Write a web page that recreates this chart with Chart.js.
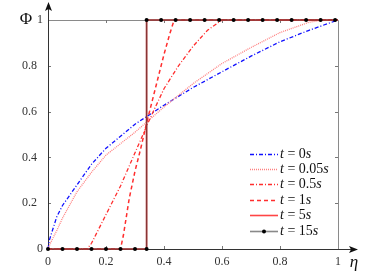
<!DOCTYPE html>
<html lang="en">

<head>
    <meta charset="UTF-8">
    <title>Phi x eta</title>
    <script src="https://cdn.jsdelivr.net/npm/chart.js"></script>
    <style>
        html, body { margin: 0; padding: 0; background: #fff; }
        #grafico { display: block; }
    </style>
</head>

<body>
    <canvas id="grafico" width="374" height="280"></canvas>

<script>
    // valores
    var tempos = ['0', '0.05', '0.5', '1', '5', '15'];

    var eta0 = [0, 0.005, 0.01, 0.03, 0.05, 0.1, 0.15, 0.2, 0.3, 0.4, 0.5, 0.6, 0.7, 0.8, 0.9, 1];
    var phi0 = [0, 0.04, 0.06, 0.14, 0.19, 0.28, 0.37, 0.44, 0.545, 0.628, 0.705, 0.774, 0.842, 0.905, 0.955, 1];

    var eta005 = [0, 0.01, 0.03, 0.05, 0.1, 0.15, 0.2, 0.3, 0.4, 0.5, 0.6, 0.7, 0.8, 0.9, 0.95, 1];
    var phi005 = [0, 0.03, 0.08, 0.135, 0.25, 0.335, 0.41, 0.51, 0.62, 0.722, 0.81, 0.88, 0.945, 0.99, 1, 1];

    var eta05 = [0, 0.135, 0.15, 0.2, 0.25, 0.3, 0.35, 0.4, 0.45, 0.5, 0.55, 0.6, 1];
    var phi05 = [0, 0, 0.025, 0.15, 0.275, 0.42, 0.565, 0.7, 0.8, 0.885, 0.955, 1, 1];

    var eta1 = [0, 0.25, 0.26, 0.28, 0.3, 0.32, 0.34, 0.36, 0.38, 0.4, 0.42, 0.435, 1];
    var phi1 = [0, 0, 0.06, 0.22, 0.34, 0.44, 0.55, 0.65, 0.75, 0.85, 0.94, 1, 1];

    var eta5 = [0, 0.34, 0.34, 1];
    var phi5 = [0, 0, 1, 1];

    var eta15 = [0, 0.05, 0.1, 0.15, 0.2, 0.25, 0.3, 0.34, 0.34, 0.39, 0.44, 0.49, 0.54, 0.59, 0.64, 0.69, 0.74, 0.79, 0.84, 0.89, 0.94, 0.99, 1];
    var phi15 = [0, 0, 0, 0, 0, 0, 0, 0, 1, 1, 1, 1, 1, 1, 1, 1, 1, 1, 1, 1, 1, 1, 1];

    var ticksX = [0, 0.2, 0.4, 0.6, 0.8, 1];
    var ticksY = [0, 0.2, 0.4, 0.6, 0.8, 1];

    var fonteSerif = '"Liberation Serif", "DejaVu Serif", serif';

    function pontos(xs, ys) {
        var lista = [];
        for (var i = 0; i < xs.length; i++) {
            lista.push({ x: xs[i], y: ys[i] });
        }
        return lista;
    }

    function rotulo(v) {
        if (v === 0 || v === 1) return String(v);
        return v.toFixed(1) + '\u2002';
    }

    // eixos com setas, caixa e ticks para dentro
    var pluginEixos = {
        id: 'eixos',
        beforeDatasetsDraw: function (chart) {
            var ctx = chart.ctx;
            var a = chart.chartArea;
            var sx = chart.scales.x;
            var sy = chart.scales.y;

            ctx.save();
            ctx.lineWidth = 1;

            // caixa (topo e direita)
            ctx.strokeStyle = '#8a8a8a';
            ctx.beginPath();
            ctx.moveTo(a.left, a.top + 0.5);
            ctx.lineTo(a.right + 0.5, a.top + 0.5);
            ctx.lineTo(a.right + 0.5, a.bottom);
            ctx.stroke();

            // ticks
            ctx.strokeStyle = '#777';
            ctx.beginPath();
            for (var i = 1; i < ticksX.length - 1; i++) {
                var px = Math.round(sx.getPixelForValue(ticksX[i])) + 0.5;
                ctx.moveTo(px, a.bottom); ctx.lineTo(px, a.bottom - 3);
                ctx.moveTo(px, a.top); ctx.lineTo(px, a.top + 3);
            }
            for (var j = 1; j < ticksY.length - 1; j++) {
                var py = Math.round(sy.getPixelForValue(ticksY[j])) + 0.5;
                ctx.moveTo(a.left, py); ctx.lineTo(a.left + 3, py);
                ctx.moveTo(a.right, py); ctx.lineTo(a.right - 3, py);
            }
            ctx.stroke();

            // eixos principais
            var x0 = Math.round(a.left) + 0.5;
            var y0 = Math.round(a.bottom) + 0.5;
            ctx.strokeStyle = '#333';
            ctx.beginPath();
            ctx.moveTo(x0, y0);
            ctx.lineTo(x0, 8);
            ctx.moveTo(x0, y0);
            ctx.lineTo(a.right + 14, y0);
            ctx.stroke();

            // setas
            ctx.fillStyle = '#111';
            ctx.beginPath();
            ctx.moveTo(x0, 2);
            ctx.lineTo(x0 + 3.5, 11);
            ctx.lineTo(x0, 9);
            ctx.lineTo(x0 - 3.5, 11);
            ctx.closePath();
            ctx.fill();

            var xs = a.right + 20;
            ctx.beginPath();
            ctx.moveTo(xs, y0);
            ctx.lineTo(xs - 9, y0 - 3.5);
            ctx.lineTo(xs - 7, y0);
            ctx.lineTo(xs - 9, y0 + 3.5);
            ctx.closePath();
            ctx.fill();

            ctx.restore();
        },
        afterDatasetsDraw: function (chart) {
            var ctx = chart.ctx;
            var a = chart.chartArea;

            ctx.save();
            // nomes dos eixos
            ctx.fillStyle = '#111';
            ctx.textBaseline = 'middle';
            ctx.textAlign = 'center';
            ctx.font = '17px ' + fonteSerif;
            ctx.fillText('\u03A6', 26, a.top);
            ctx.font = 'italic 17px ' + fonteSerif;
            ctx.fillText('\u03B7', a.right + 16, a.bottom + 14);

            // legenda
            var lx1 = a.right - 88;
            var lx2 = a.right - 60;
            var ly = a.top + 133.5;
            var passo = 15.4;
            ctx.textAlign = 'left';
            chart.data.datasets.forEach(function (ds, i) {
                var y = Math.round(ly + i * passo) + 0.5;
                ctx.save();
                ctx.strokeStyle = ds.borderColor;
                ctx.lineWidth = ds.borderWidth;
                ctx.setLineDash(ds.borderDash || []);
                ctx.beginPath();
                ctx.moveTo(lx1, y);
                ctx.lineTo(lx2, y);
                ctx.stroke();
                if (ds.marcador) {
                    ctx.fillStyle = '#000';
                    ctx.beginPath();
                    ctx.arc((lx1 + lx2) / 2, y, 2, 0, Math.PI * 2);
                    ctx.fill();
                }
                ctx.restore();

                var x = lx2 + 2;
                ctx.fillStyle = '#111';
                ctx.font = 'italic 14px ' + fonteSerif;
                ctx.fillText('t', x, y);
                x += ctx.measureText('t').width;
                ctx.font = '14px ' + fonteSerif;
                var meio = ' = ' + tempos[i];
                ctx.fillText(meio, x, y);
                x += ctx.measureText(meio).width;
                ctx.font = 'italic 14px ' + fonteSerif;
                ctx.fillText('s', x, y);
            });
            ctx.restore();
        }
    };

    function raios() {
        var r = [];
        for (var i = 0; i < eta15.length; i++) {
            r.push(i === eta15.length - 1 ? 0 : 2);
        }
        return r;
    }

    var dados = {
        datasets: [{
            label: 't = ' + tempos[0] + 's',
            data: pontos(eta0, phi0),
            borderColor: '#1010ff',
            borderWidth: 1.3,
            borderDash: [4, 2, 1, 2],
            order: 5
        }, {
            label: 't = ' + tempos[1] + 's',
            data: pontos(eta005, phi005),
            borderColor: '#ff8080',
            borderWidth: 1.3,
            borderDash: [1, 1],
            order: 4
        }, {
            label: 't = ' + tempos[2] + 's',
            data: pontos(eta05, phi05),
            borderColor: '#ff2e2e',
            borderWidth: 1.3,
            borderDash: [4, 2, 1, 2],
            order: 3
        }, {
            label: 't = ' + tempos[3] + 's',
            data: pontos(eta1, phi1),
            borderColor: '#ff2e2e',
            borderWidth: 1.5,
            borderDash: [4, 3],
            order: 2
        }, {
            label: 't = ' + tempos[4] + 's',
            data: pontos(eta5, phi5),
            borderColor: '#ff4545',
            borderWidth: 1.6,
            order: 1
        }, {
            label: 't = ' + tempos[5] + 's',
            data: pontos(eta15, phi15),
            borderColor: 'rgba(40, 40, 40, 0.55)',
            borderWidth: 1.6,
            pointRadius: raios(),
            pointBackgroundColor: '#000',
            pointBorderWidth: 0,
            marcador: true,
            order: 0
        }]
    };

    dados.datasets.forEach(function (ds) {
        ds.fill = false;
        ds.tension = 0;
        ds.clip = false;
        if (ds.pointRadius === undefined) ds.pointRadius = 0;
    });

    var config = {
        type: 'line',
        data: dados,
        options: {
            responsive: false,
            animation: false,
            layout: {
                padding: { top: 20, right: 36, left: 0, bottom: 0 }
            },
            plugins: {
                legend: { display: false },
                tooltip: { enabled: false }
            },
            scales: {
                x: {
                    type: 'linear',
                    min: 0,
                    max: 1,
                    grid: { display: false, drawTicks: false },
                    border: { display: false },
                    afterFit: function (scale) { scale.height = 31; },
                    afterBuildTicks: function (scale) {
                        scale.ticks = ticksX.map(function (v) { return { value: v }; });
                    },
                    ticks: {
                        padding: 6,
                        maxRotation: 0,
                        color: '#333',
                        font: { size: 12, family: fonteSerif },
                        callback: function (v) { return String(v === 0 || v === 1 ? v : v.toFixed(1)); }
                    }
                },
                y: {
                    type: 'linear',
                    min: 0,
                    max: 1,
                    grid: { display: false, drawTicks: false },
                    border: { display: false },
                    afterFit: function (scale) { scale.width = 48; },
                    afterBuildTicks: function (scale) {
                        scale.ticks = ticksY.map(function (v) { return { value: v }; });
                    },
                    ticks: {
                        padding: 5,
                        color: '#333',
                        font: { size: 12, family: fonteSerif },
                        callback: function (v) { return rotulo(v); }
                    }
                }
            }
        },
        plugins: [pluginEixos]
    };

    var ctx = document.getElementById('grafico').getContext('2d');
    var meuGrafico = new Chart(ctx, config);
</script>
</body>

</html>
